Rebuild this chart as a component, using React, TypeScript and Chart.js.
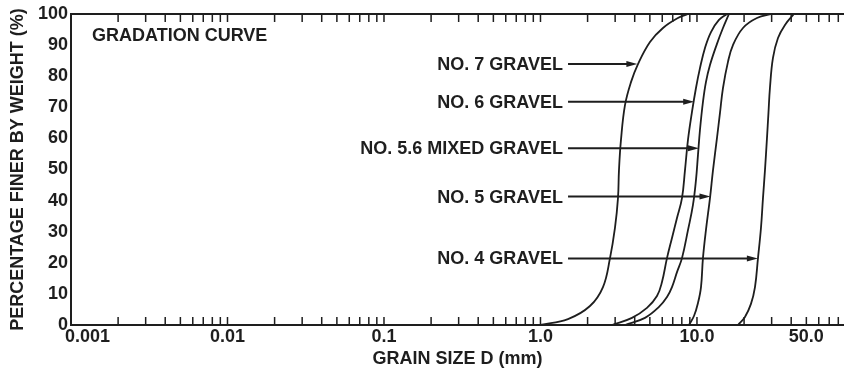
import { useEffect, useRef } from 'react';
import { Chart, registerables } from 'chart.js';

Chart.register(...registerables);

// ---- data (grain size in mm, percent finer by weight) ----
const no7Size = [1.0, 1.499, 2.071, 2.508, 2.781, 2.992, 3.128, 3.174, 3.269, 3.467, 3.787, 4.198, 5.009, 6.063, 7.559, 8.76];
const no7Pct = [0, 1.9, 6.1, 12.2, 21.5, 31.2, 40.8, 49.8, 59.5, 70.7, 78.1, 83.9, 91.0, 95.5, 98.7, 100];

const no6Size = [2.863, 3.842, 4.792, 5.551, 5.975, 6.432, 6.923, 7.452, 8.021, 8.384, 8.76, 9.291, 9.854, 10.45, 11.25, 12.29, 13.82, 15.55];
const no6Pct = [0, 2.3, 5.5, 9.3, 13.8, 21.5, 28.0, 34.4, 40.8, 49.8, 59.5, 68.5, 76.2, 82.6, 89.1, 94.2, 98.1, 100];

const mixedSize = [3.467, 4.653, 5.717, 6.432, 6.923, 7.452, 8.021, 8.76, 9.428, 9.854, 10.15, 10.45, 10.92, 11.41, 12.11, 13.42, 14.66, 16.01];
const mixedPct = [0, 2.3, 5.8, 9.0, 12.2, 17.0, 21.5, 30.5, 38.6, 46.6, 54.7, 62.7, 71.7, 78.1, 83.6, 90.4, 95.5, 100];

const no5Size = [8.89, 9.568, 10.15, 10.61, 10.92, 11.41, 12.11, 12.66, 13.42, 14.03, 14.66, 15.78, 16.98, 19.68, 24.17, 30.15];
const no5Pct = [0, 2.9, 7.1, 12.2, 21.5, 30.5, 40.8, 49.8, 60.1, 68.2, 76.2, 84.6, 90.0, 95.5, 98.7, 100];

const no4Size = [18.28, 20.26, 22.13, 23.48, 24.54, 25.64, 26.41, 27.2, 28.01, 28.63, 29.26, 30.59, 32.94, 36.51, 41.66];
const no4Pct = [0, 2.6, 6.8, 12.2, 21.5, 31.2, 40.8, 49.8, 60.1, 68.2, 76.2, 85.9, 92.3, 96.5, 100];

// ---- annotation arrows ----
const arrowLabels = ['NO. 7 GRAVEL', 'NO. 6 GRAVEL', 'NO. 5.6 MIXED GRAVEL', 'NO. 5 GRAVEL', 'NO. 4 GRAVEL'];
const arrowPct = [83.9, 71.8, 56.8, 41.3, 21.4];
const arrowTipSize = [4.16, 9.6, 10.3, 12.2, 24.5];
const arrowStartSize = 1.5;

// ---- axis ticks ----
const xLabelValues = [0.001, 0.01, 0.1, 1, 10, 50];
const xLabelTexts = ['0.001', '0.01', '0.1', '1.0', '10.0', '50.0'];
const xMin = 0.001;
const xMax = 87;
const yMin = 0;
const yMax = 100;
const yStep = 10;

const chartTitle = 'GRADATION CURVE';
const xTitle = 'GRAIN SIZE D (mm)';
const yTitle = 'PERCENTAGE FINER BY WEIGHT (%)';

const INK = '#1e1e1e';
const FAMILY = '"Liberation Sans", Arial, Helvetica, sans-serif';
const FONT_SIZE = 18;

const zip = (xs: number[], ys: number[]) => xs.map((v, i) => ({ x: v, y: ys[i] }));

const overlayPlugin = {
  id: 'overlay',
  afterDraw(chart: any) {
    const { ctx, chartArea: a, scales } = chart;
    const x = scales.x;
    const y = scales.y;
    ctx.save();
    // top border
    ctx.strokeStyle = INK;
    ctx.lineWidth = 2;
    ctx.beginPath();
    ctx.moveTo(a.left - 1, a.top);
    ctx.lineTo(a.right, a.top);
    ctx.stroke();

    // log ticks, pointing inward on top and bottom
    ctx.lineWidth = 1.5;
    const tickLen = 8;
    for (let k = -3; k <= 2; k++) {
      for (let m = 1; m <= 9; m++) {
        const v = m * Math.pow(10, k);
        if (v <= xMin * 1.0001 || v > xMax) continue;
        const px = x.getPixelForValue(v);
        ctx.beginPath();
        ctx.moveTo(px, a.bottom);
        ctx.lineTo(px, a.bottom - tickLen);
        ctx.moveTo(px, a.top);
        ctx.lineTo(px, a.top + tickLen);
        ctx.stroke();
      }
    }

    ctx.fillStyle = INK;
    ctx.font = `bold ${FONT_SIZE}px ${FAMILY}`;
    ctx.textBaseline = 'middle';

    // x tick labels
    ctx.textAlign = 'center';
    xLabelValues.forEach((v, i) => {
      const t = xLabelTexts[i];
      const w = ctx.measureText(t).width;
      let cx = x.getPixelForValue(v);
      cx = Math.max(cx, a.left - 6 + w / 2);
      ctx.fillText(t, cx, a.bottom + 12);
    });

    // chart title inside plot
    ctx.textAlign = 'left';
    ctx.fillText(chartTitle, a.left + 21, a.top + 22);

    // arrows with labels
    const startPx = x.getPixelForValue(arrowStartSize);
    arrowLabels.forEach((label, i) => {
      const py = y.getPixelForValue(arrowPct[i]);
      const tip = x.getPixelForValue(arrowTipSize[i]);
      ctx.textAlign = 'right';
      ctx.fillText(label, startPx - 5, py + 1);
      const head = 11;
      ctx.lineWidth = 2;
      ctx.beginPath();
      ctx.moveTo(startPx, py);
      ctx.lineTo(tip - head + 1, py);
      ctx.stroke();
      ctx.beginPath();
      ctx.moveTo(tip, py);
      ctx.lineTo(tip - head, py - 3);
      ctx.lineTo(tip - head, py + 3);
      ctx.closePath();
      ctx.fill();
    });
    ctx.restore();
  },
};

export default function App() {
  const ref = useRef<HTMLCanvasElement | null>(null);

  useEffect(() => {
    document.body.style.margin = '0';
    const canvas = ref.current;
    if (!canvas) return;
    const font = { family: FAMILY, size: FONT_SIZE, weight: 'bold' as const };
    const lineStyle = {
      borderColor: INK,
      borderWidth: 1.8,
      pointRadius: 0,
      pointHoverRadius: 0,
      tension: 0.4,
      fill: false,
    };
    const chart = new Chart(canvas, {
      type: 'line',
      data: {
        datasets: [
          { label: 'NO. 7 GRAVEL', data: zip(no7Size, no7Pct), ...lineStyle },
          { label: 'NO. 6 GRAVEL', data: zip(no6Size, no6Pct), ...lineStyle },
          { label: 'NO. 5.6 MIXED GRAVEL', data: zip(mixedSize, mixedPct), ...lineStyle },
          { label: 'NO. 5 GRAVEL', data: zip(no5Size, no5Pct), ...lineStyle },
          { label: 'NO. 4 GRAVEL', data: zip(no4Size, no4Pct), ...lineStyle },
        ],
      },
      options: {
        responsive: false,
        animation: false,
        devicePixelRatio: 1,
        layout: { padding: { top: 14, left: 0, right: 0, bottom: 0 } },
        plugins: {
          legend: { display: false },
          tooltip: { enabled: false },
        },
        scales: {
          x: {
            type: 'logarithmic',
            min: xMin,
            max: xMax,
            grid: { display: false },
            border: { display: true, color: INK, width: 2 },
            ticks: { display: false },
            title: {
              display: true,
              text: xTitle,
              color: INK,
              font,
              padding: { top: 0, bottom: 4 },
            },
            afterFit: (s: any) => {
              s.height = 49;
            },
          },
          y: {
            type: 'linear',
            min: yMin,
            max: yMax,
            grid: { display: false, drawTicks: false },
            border: { display: true, color: INK, width: 2 },
            ticks: { stepSize: yStep, color: INK, font, padding: 3 },
            title: {
              display: true,
              text: yTitle,
              color: INK,
              font,
              padding: { top: 7, bottom: 0 },
            },
            afterFit: (s: any) => {
              s.width = 71;
            },
          },
        },
      },
      plugins: [overlayPlugin],
    });
    return () => chart.destroy();
  }, []);

  return (
    <div style={{ position: 'fixed', left: 0, top: 0, width: 844, height: 374, overflow: 'hidden', background: '#fff' }}>
      <canvas ref={ref} width={844} height={374} />
    </div>
  );
}
